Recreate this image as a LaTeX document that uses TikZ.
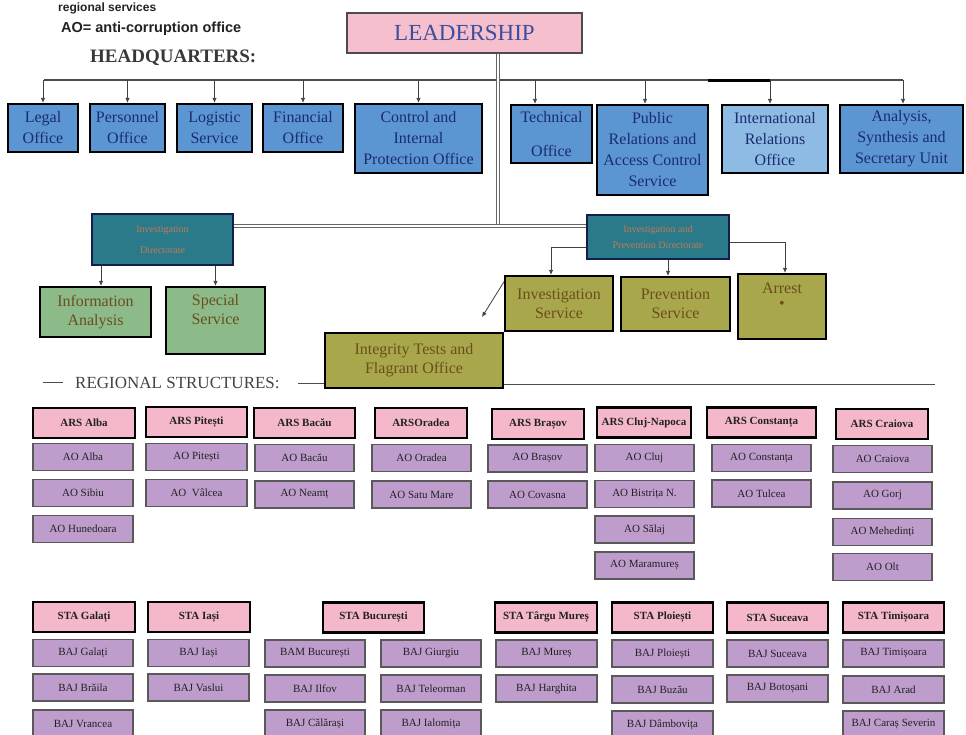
\documentclass[tikz,border=0pt]{standalone}
\usepackage{fontspec}
\setmainfont{Liberation Serif}
\newfontfamily\arialf{Liberation Sans}
\usetikzlibrary{arrows.meta,calc}
\definecolor{hqblue}{HTML}{5B96D2}
\definecolor{hqlight}{HTML}{8DBBE3}
\definecolor{navy}{HTML}{1C2B6E}
\definecolor{leadpink}{HTML}{F5BFCD}
\definecolor{leadtext}{HTML}{3C4E9E}
\definecolor{dirteal}{HTML}{2B7A8A}
\definecolor{dirtext}{HTML}{C07A55}
\definecolor{greenbox}{HTML}{8CBA89}
\definecolor{olivebox}{HTML}{A9A74B}
\definecolor{boxbrown}{HTML}{6B4E1E}
\definecolor{hdrpink}{HTML}{F4B8CA}
\definecolor{lav}{HTML}{BE9DCC}
\definecolor{ink}{HTML}{222222}
\tikzset{
  hq/.style={draw=black, line width=2.2pt, fill=hqblue, text=navy, font=\fontsize{16}{21}\selectfont, align=center, inner sep=0pt},
  arr/.style={draw=black!75, line width=0.8pt, -{Latex[length=5pt,width=4.5pt]}},
  busline/.style={draw=black!70, line width=1.2pt},
  dbl/.style={draw=black!60, double=white, double distance=2.4pt, line width=0.9pt},
  rulel/.style={draw=black!70, line width=1pt},
  dirbox/.style={draw=navy!70!black, line width=1.5pt, fill=dirteal, text=dirtext, font=\fontsize{10}{21}\selectfont, align=center, inner sep=0pt},
  greenb/.style={draw=black, line width=2.2pt, fill=greenbox, text=boxbrown, font=\fontsize{16}{19}\selectfont, align=center, inner sep=0pt},
  oliveb/.style={draw=black, line width=2.2pt, fill=olivebox, text=boxbrown, font=\fontsize{16}{19}\selectfont, align=center, inner sep=0pt},
  hdr/.style={draw=black, line width=2.2pt, fill=hdrpink, text=ink, font=\bfseries\fontsize{11}{13}\selectfont, minimum width=101pt, minimum height=30pt, inner sep=0pt},
  sub/.style={draw=black!65, line width=1.2pt, fill=lav, text=ink, font=\fontsize{11}{13}\selectfont, minimum width=100pt, minimum height=27pt, inner sep=0pt},
  lbl/.style={anchor=base west, inner sep=0pt}
}
\begin{document}
\begin{tikzpicture}[x=1pt,y=-1pt]
\useasboundingbox (0,0) rectangle (966,734);
% legend texts
\node[lbl, font=\arialf\bfseries\fontsize{12}{14}\selectfont, text=ink] (legA) at (58,11) {regional services};
\node[lbl, font=\arialf\bfseries\fontsize{14.5}{18}\selectfont, text=ink] (legB) at (61,32) {AO= anti-corruption office};
\node[lbl, font=\bfseries\fontsize{19}{20}\selectfont, text=ink!90] (hqtitle) at (90,62) {HEADQUARTERS:};
% leadership
\node[draw=black!70, line width=1.2pt, fill=leadpink, text=leadtext, font=\fontsize{23}{26}\selectfont, minimum width=235pt, minimum height=40pt, inner sep=0pt] (leadership) at (464.5,33) {LEADERSHIP};
% HQ boxes
\node[hq, minimum width=70pt, minimum height=48pt] (legal) at (43,128) {Legal\\Office};
\node[hq, minimum width=75pt, minimum height=48pt] (personnel) at (127.5,128) {Personnel\\Office};
\node[hq, minimum width=75pt, minimum height=48pt] (logistic) at (214.5,128) {Logistic\\Service};
\node[hq, minimum width=80pt, minimum height=48pt] (financial) at (303,128) {Financial\\Office};
\node[hq, minimum width=127pt, minimum height=69pt] (control) at (418.5,138.5) {Control and\\Internal\\Protection Office};
\node[hq, minimum width=81pt, minimum height=58pt] (technical) at (551.5,134) {Technical\\[13pt]Office};
\node[hq, minimum width=111pt, minimum height=90pt] (public) at (652.5,150) {Public\\Relations and\\Access Control\\Service};
\node[hq, fill=hqlight, minimum width=106pt, minimum height=68pt] (international) at (775,139) {International\\Relations\\Office};
\node[hq, minimum width=123pt, minimum height=68pt] (analysis) at (901.5,139) {Analysis,\\Synthesis and\\Secretary Unit};
% bus
\coordinate (busL) at (44,80);
\coordinate (busR) at (903,80);
\draw[busline] (busL) -- (busR);
\draw[draw=black, line width=2.5pt] (708,80.5) -- (770,80.5);
\draw[arr] (legal.north |- busL) -- (legal.north);
\draw[arr] (personnel.north |- busL) -- (personnel.north);
\draw[arr] (logistic.north |- busL) -- (logistic.north);
\draw[arr] (financial.north |- busL) -- (financial.north);
\draw[arr] (control.north |- busL) -- (control.north);
\draw[arr] ([xshift=-16.5pt]technical.north |- busL) -- ([xshift=-16.5pt]technical.north);
\draw[arr] ([xshift=-7.5pt]public.north |- busL) -- ([xshift=-7.5pt]public.north);
\draw[arr] ([xshift=-5pt]international.north |- busL) -- ([xshift=-5pt]international.north);
\draw[arr] ([xshift=1.5pt]analysis.north |- busL) -- ([xshift=1.5pt]analysis.north);
% directorates
\node[dirbox, minimum width=141pt, minimum height=51pt] (invdir) at (162.5,239.5) {Investigation\\Directorate};
\node[dirbox, minimum width=142pt, minimum height=44pt] (ipd) at (658,237) {Investigation and\\[-5pt]Prevention Directorate};
\coordinate (jn) at (498,226);
\draw[dbl] (leadership.south -| jn) -- (jn);
\draw[dbl] (invdir.east |- jn) -- (ipd.west |- jn);
% sub services
\node[greenb, minimum width=111pt, minimum height=50pt] (infoan) at (95.5,312) {Information\\Analysis};
\node[greenb, minimum width=99pt, minimum height=67pt] (special) at (215.5,320.5) {Special\\Service\\[4pt]};
\node[oliveb, minimum width=178pt, minimum height=55pt] (integrity) at (414,360.5) {Integrity Tests and\\Flagrant Office};
\node[oliveb, minimum width=108pt, minimum height=55pt] (invsvc) at (559,303.5) {Investigation\\Service};
\node[oliveb, minimum width=109pt, minimum height=54pt] (prev) at (675.5,304) {Prevention\\Service};
\node[oliveb, minimum width=88pt, minimum height=65pt] (arrest) at (782,306.5) {Arrest\\[-4pt]\textbullet\\[2pt]};
\draw[arr] ([xshift=-61.5pt]invdir.south) -- ([xshift=5.5pt]infoan.north);
\draw[arr] (invdir.south -| special.north) -- (special.north);
\draw[arr] ([yshift=-10pt]ipd.west) -| ([xshift=-8pt]invsvc.north);
\draw[arr] ([xshift=-7.5pt]prev.north |- ipd.south) -- ([xshift=-7.5pt]prev.north);
\draw[arr] ([yshift=-5pt]ipd.east) -| ([xshift=3pt]arrest.north);
\coordinate (diagend) at (482,317);
\draw[arr] ([yshift=-7pt]invsvc.north west) -- (diagend);
% regional structures title
\coordinate (r0a) at (43,382);
\coordinate (r0b) at (63,382);
\draw[rulel] (r0a) -- (r0b);
\node[lbl, font=\fontsize{17}{20}\selectfont, text=ink!85] (regtitle) at (75,388) {REGIONAL STRUCTURES:};
\coordinate (r1) at (298,383);
\draw[rulel] (r1) -- (integrity.west |- r1);
\coordinate (r2) at (935,384);
\draw[rulel] (integrity.east |- r2) -- (r2);
% ARS row
\node[hdr, minimum width=102pt] (arsalba) at (84,423) {ARS Alba};
\node[sub] (aoalba) at (83,457) {AO Alba};
\node[sub] (aosibiu) at (83,493) {AO Sibiu};
\node[sub] (aohunedoara) at (83,529) {AO Hunedoara};
\node[hdr] (arspitesti) at (196.5,422) {ARS Pitești};
\node[sub, minimum width=101pt] (aopitesti) at (196.5,457) {AO Pitești};
\node[sub, minimum width=101pt] (aovalcea) at (196.5,493) {AO\ \ Vâlcea};
\node[hdr] (arsbacau) at (304.5,423) {ARS Bacău};
\node[sub, minimum width=99pt] (aobacau) at (304.5,458) {AO Bacău};
\node[sub, minimum width=99pt] (aoneamt) at (304.5,494.5) {AO Neamț};
\node[hdr, minimum width=92pt] (arsoradea) at (421,423) {ARSOradea};
\node[sub, minimum width=99pt] (aooradea) at (421.5,458) {AO Oradea};
\node[sub, minimum width=99pt] (aosatumare) at (421.5,494.5) {AO Satu Mare};
\node[hdr, minimum width=92pt] (arsbrasov) at (538,424) {ARS Brașov};
\node[sub, minimum width=99pt] (aobrasov) at (537.5,458.5) {AO Brașov};
\node[sub, minimum width=99pt] (aocovasna) at (537.5,494.5) {AO Covasna};
\node[hdr, minimum width=94pt] (arscluj) at (644,422.5) {ARS Cluj-Napoca};
\node[sub, minimum width=99pt] (aocluj) at (644.5,458) {AO Cluj};
\node[sub, minimum width=99pt] (aobistrita) at (644.5,494) {AO Bistrița N.};
\node[sub, minimum width=99pt] (aosalaj) at (644.5,529.5) {AO Sălaj};
\node[sub, minimum width=99pt] (aomaramures) at (644.5,565.5) {AO Maramureș};
\node[hdr, minimum width=109pt] (arsconstanta) at (761.5,422.5) {ARS Constanța};
\node[sub, minimum width=99pt] (aoconstanta) at (761.5,458) {AO Constanța};
\node[sub, minimum width=99pt] (aotulcea) at (761.5,493.5) {AO Tulcea};
\node[hdr, minimum width=92pt] (arscraiova) at (882,424) {ARS Craiova};
\node[sub, minimum width=99pt] (aocraiova) at (882.5,459) {AO Craiova};
\node[sub, minimum width=99pt] (aogorj) at (882.5,495.5) {AO Gorj};
\node[sub, minimum width=99pt] (aomehedinti) at (882.5,532) {AO Mehedinți};
\node[sub, minimum width=99pt] (aoolt) at (882.5,567) {AO Olt};
% STA row
\node[hdr, minimum width=102pt] (stagalati) at (84,617) {STA Galați};
\node[sub] (bajgalati) at (83,653) {BAJ Galați};
\node[sub] (bajbraila) at (83,687.5) {BAJ Brăila};
\node[sub] (bajvrancea) at (83,723.5) {BAJ Vrancea};
\node[hdr, minimum width=102pt] (staiasi) at (199,617) {STA Iași};
\node[sub, minimum width=101pt] (bajiasi) at (198.5,653) {BAJ Iași};
\node[sub, minimum width=101pt] (bajvaslui) at (198.5,687.5) {BAJ Vaslui};
\node[hdr] (stabucuresti) at (373.5,617.5) {STA București};
\node[sub] (bambucuresti) at (315,653.5) {BAM București};
\node[sub] (bajilfov) at (315,688.5) {BAJ Ilfov};
\node[sub] (bajcalarasi) at (315,723.5) {BAJ Călărași};
\node[sub] (bajgiurgiu) at (431,653.5) {BAJ Giurgiu};
\node[sub] (bajteleorman) at (431,688.5) {BAJ Teleorman};
\node[sub] (bajialomita) at (431,723.5) {BAJ Ialomița};
\node[hdr, minimum width=102pt] (statargumures) at (546,617.5) {STA Târgu Mureș};
\node[sub, minimum width=101pt] (bajmures) at (546.5,653.5) {BAJ Mureș};
\node[sub, minimum width=101pt] (bajharghita) at (546.5,688.5) {BAJ Harghita};
\node[hdr] (staploiesti) at (662.5,617.5) {STA Ploiești};
\node[sub, minimum width=101pt] (bajploiesti) at (662.5,653.5) {BAJ Ploiești};
\node[sub, minimum width=101pt] (bajbuzau) at (662.5,689.5) {BAJ Buzău};
\node[sub, minimum width=101pt] (bajdambovita) at (662.5,724.5) {BAJ Dâmbovița};
\node[hdr] (stasuceava) at (777.5,617.5) {STA Suceava};
\node[sub, minimum width=101pt] (bajsuceava) at (777.5,653.5) {BAJ Suceava};
\node[sub, minimum width=101pt] (bajbotosani) at (777.5,688.5) {BAJ Botoșani};
\node[hdr] (statimisoara) at (893.5,617.5) {STA Timișoara};
\node[sub, minimum width=101pt] (bajtimisoara) at (893.5,653.5) {BAJ Timișoara};
\node[sub, minimum width=101pt] (bajarad) at (893.5,689.5) {BAJ Arad};
\node[sub, minimum width=101pt] (bajcaras) at (893.5,724.5) {BAJ Caraș Severin};
\end{tikzpicture}
\end{document}
